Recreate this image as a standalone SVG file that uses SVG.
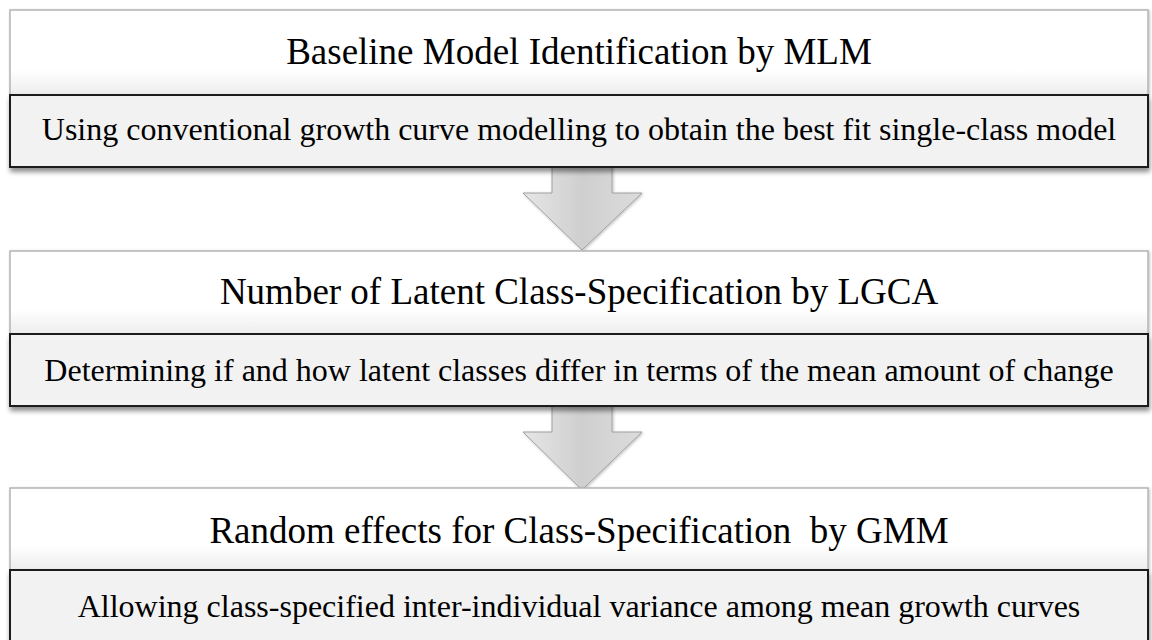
<svg xmlns="http://www.w3.org/2000/svg" width="1152" height="640" viewBox="0 0 1152 640">
  <defs>
    <linearGradient id="hdrGrad" x1="0" y1="0" x2="0" y2="1">
      <stop offset="0" stop-color="#ffffff"/>
      <stop offset="0.7" stop-color="#ffffff"/>
      <stop offset="1" stop-color="#ededed"/>
    </linearGradient>
    <linearGradient id="arrowGrad" x1="0" y1="0" x2="1" y2="0">
      <stop offset="0" stop-color="#e6e6e6"/>
      <stop offset="0.5" stop-color="#cfcfcf"/>
      <stop offset="1" stop-color="#dcdcdc"/>
    </linearGradient>
    <filter id="shadow" x="-5%" y="-20%" width="110%" height="150%">
      <feGaussianBlur in="SourceAlpha" stdDeviation="2.5"/>
      <feOffset dx="1" dy="4" result="b"/>
      <feComponentTransfer><feFuncA type="linear" slope="0.45"/></feComponentTransfer>
      <feMerge><feMergeNode/><feMergeNode in="SourceGraphic"/></feMerge>
    </filter>
    <filter id="softShadow" x="-5%" y="-20%" width="110%" height="150%">
      <feGaussianBlur in="SourceAlpha" stdDeviation="1.5"/>
      <feOffset dx="1" dy="1" result="b"/>
      <feComponentTransfer><feFuncA type="linear" slope="0.25"/></feComponentTransfer>
      <feMerge><feMergeNode/><feMergeNode in="SourceGraphic"/></feMerge>
    </filter>
  </defs>
  <style>
    .hdr { fill: url(#hdrGrad); stroke: #b4b4b4; stroke-width: 1.5; }
    .sub { fill: #f2f2f2; stroke: #1a1a1a; stroke-width: 2; }
    .arrow { fill: url(#arrowGrad); stroke: #a0a0a0; stroke-width: 1; }
    .t1 { font-family: "Liberation Serif", "Times New Roman", serif; font-size: 37px; fill: #000; text-anchor: middle; }
    .t2 { font-family: "Liberation Serif", "Times New Roman", serif; font-size: 32px; fill: #000; text-anchor: middle; }
  </style>
  <rect width="1152" height="640" fill="#ffffff"/>

  <g id="connectors">
    <path class="arrow" filter="url(#softShadow)" d="M552,160 L612,160 L612,193 L642,193 L582,250 L523,193 L552,193 Z"/>
    <path class="arrow" filter="url(#softShadow)" d="M552,400 L612,400 L612,432 L642,432 L582,490 L523,432 L552,432 Z"/>
  </g>

  <g id="node1">
    <rect class="hdr" filter="url(#softShadow)" x="10" y="10" width="1138" height="85"/>
    <rect class="sub" filter="url(#shadow)" x="10" y="95" width="1138" height="72"/>
    <text class="t1" x="579" y="64">Baseline Model Identification by MLM</text>
    <text class="t2" x="579" y="140">Using conventional growth curve modelling to obtain the best fit single-class model</text>
  </g>

  <g id="node2">
    <rect class="hdr" filter="url(#softShadow)" x="10" y="251" width="1138" height="83"/>
    <rect class="sub" filter="url(#shadow)" x="10" y="334" width="1138" height="72"/>
    <text class="t1" x="579" y="304">Number of Latent Class-Specification by LGCA</text>
    <text class="t2" x="579" y="381">Determining if and how latent classes differ in terms of the mean amount of change</text>
  </g>

  <g id="node3">
    <rect class="hdr" filter="url(#softShadow)" x="10" y="488" width="1138" height="82"/>
    <rect class="sub" filter="url(#shadow)" x="10" y="570" width="1138" height="80"/>
    <text class="t1" x="579" y="543" xml:space="preserve">Random effects for Class-Specification  by GMM</text>
    <text class="t2" x="579" y="617">Allowing class-specified inter-individual variance among mean growth curves</text>
  </g>
</svg>
